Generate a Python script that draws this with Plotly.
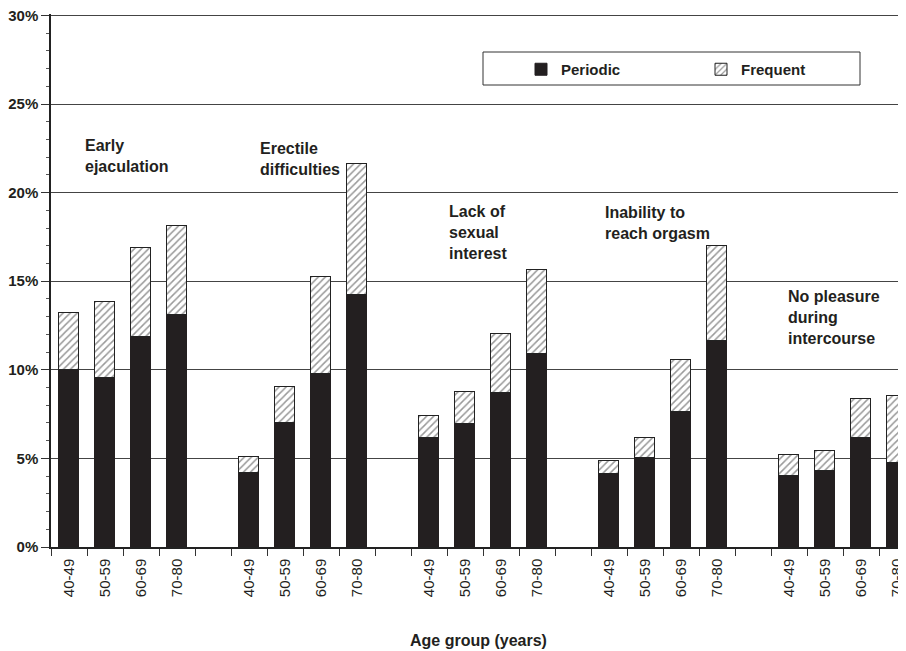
import plotly.graph_objects as go

# ---- data ----
groups = ["Early<br>ejaculation", "Erectile<br>difficulties",
          "Lack of<br>sexual<br>interest", "Inability to<br>reach orgasm",
          "No pleasure<br>during<br>intercourse"]
ages = ["40-49", "50-59", "60-69", "70-80"]

periodic_early = [10.0, 9.55, 11.86, 13.12]
periodic_erectile = [4.19, 7.01, 9.76, 14.21]
periodic_interest = [6.15, 6.94, 8.67, 10.92]
periodic_orgasm = [4.12, 5.04, 7.63, 11.64]
periodic_pleasure = [4.00, 4.29, 6.13, 4.75]

frequent_early = [3.21, 4.27, 5.02, 4.98]
frequent_erectile = [0.87, 2.03, 5.47, 7.43]
frequent_interest = [1.24, 1.80, 3.36, 4.74]
frequent_orgasm = [0.75, 1.09, 2.90, 5.34]
frequent_pleasure = [1.17, 1.14, 2.23, 3.78]

periodic = [periodic_early, periodic_erectile, periodic_interest, periodic_orgasm, periodic_pleasure]
frequent = [frequent_early, frequent_erectile, frequent_interest, frequent_orgasm, frequent_pleasure]

y_ticks = [0, 5, 10, 15, 20, 25, 30]
y_tick_labels = ["0%", "5%", "10%", "15%", "20%", "25%", "30%"]

# ---- build positions (4 bars per group + 1 empty slot between groups) ----
xs, per_vals, freq_vals, tick_text = [], [], [], []
for g in range(len(groups)):
    for a in range(len(ages)):
        xs.append(g * 5 + a)
        per_vals.append(periodic[g][a])
        freq_vals.append(frequent[g][a])
        tick_text.append(ages[a])

FONT = "Liberation Sans, Arial, Helvetica, sans-serif"
INK = "#231f20"

# the page body adds an 8px offset; size the figure so the plot lands where the reference has it
OFF = 8
W, H = 906 - OFF, 651 - OFF
ML, MR, MT, MB = 51 - OFF, 0, 14 - OFF, 104
slot_px = 36.0
plot_w = W - ML - MR
plot_h = H - MT - MB
Y_TOP = 30.08          # a hair above 30 so the 30% grid line is drawn
x_max = plot_w / slot_px - 0.5

fig = go.Figure()
fig.add_trace(go.Bar(
    x=xs, y=per_vals, name="Periodic", width=0.55,
    marker=dict(color=INK, line=dict(color=INK, width=1)),
))
fig.add_trace(go.Bar(
    x=xs, y=freq_vals, name="Frequent", width=0.55,
    marker=dict(color="white", line=dict(color="#222", width=1),
                pattern=dict(shape="/", fgcolor="#333", bgcolor="white",
                             size=5, solidity=0.3)),
))

# screen-pixel helpers (reference coordinates)
X0, Y0 = 51, 547   # left edge of plot, 0% baseline in the reference
TOP = 14

def px_to_x(px):
    return (px - X0) / slot_px - 0.5

def py_to_y(py):
    return (Y0 - py) / (plot_h / Y_TOP)

labels_pos = [(83, 135), (258, 138), (447, 201), (603, 202), (786, 286)]
for text, (lx, ty) in zip(groups, labels_pos):
    fig.add_annotation(x=px_to_x(lx), y=py_to_y(ty), xref="x", yref="y",
                       text=text, showarrow=False, xanchor="left", yanchor="top",
                       align="left",
                       font=dict(family=FONT, size=16, color=INK, weight="bold"))

def pxx(px):
    return (px - X0) / plot_w

def pyy(py):
    return (Y0 - py) / plot_h

# legend frame
fig.add_shape(type="rect", xref="paper", yref="paper",
              x0=pxx(483), x1=pxx(860), y0=pyy(85), y1=pyy(52),
              line=dict(color="#333", width=1), fillcolor="rgba(0,0,0,0)")

fig.update_layout(
    width=W, height=H,
    margin=dict(l=ML, r=MR, t=MT, b=MB, autoexpand=False),
    paper_bgcolor="white", plot_bgcolor="white",
    barmode="stack", bargap=0,
    font=dict(family=FONT, color=INK),
    legend=dict(orientation="h", x=pxx(521), y=pyy(53), xanchor="left", yanchor="top",
                entrywidth=135, entrywidthmode="pixels",
                font=dict(family=FONT, size=15, color=INK, weight="bold"),
                bgcolor="rgba(0,0,0,0)", borderwidth=0, traceorder="normal"),
    xaxis=dict(
        range=[-0.5, x_max], tickmode="array", tickvals=xs, ticktext=tick_text,
        tickangle=-90, ticks="", ticklabelstandoff=4, automargin=False,
        ticklabeloverflow="allow",
        tickfont=dict(family=FONT, size=15, color=INK),
        showline=True, linecolor="#222", linewidth=1.5,
        showgrid=False, zeroline=False,
        minor=dict(tickmode="linear", tick0=-0.5, dtick=1, ticks="outside",
                   ticklen=7, tickcolor="#333", tickwidth=1, showgrid=False),
        title=dict(text="Age group (years)", standoff=39,
                   font=dict(family=FONT, size=16, color=INK, weight="bold")),
    ),
    yaxis=dict(
        range=[0, Y_TOP], tickmode="array", tickvals=y_ticks, ticktext=y_tick_labels,
        ticks="outside", ticklen=8, tickcolor="#333", tickwidth=1, automargin=False,
        ticklabeloverflow="allow",
        tickfont=dict(family=FONT, size=15, color=INK, weight="bold"),
        showline=True, linecolor="#222", linewidth=1.5,
        showgrid=True, gridcolor="#444", gridwidth=1, zeroline=False,
        minor=dict(tickmode="linear", tick0=0, dtick=1, ticks="outside",
                   ticklen=3, tickcolor="#555", tickwidth=1, showgrid=False),
    ),
)

fig.write_html("out.html")
